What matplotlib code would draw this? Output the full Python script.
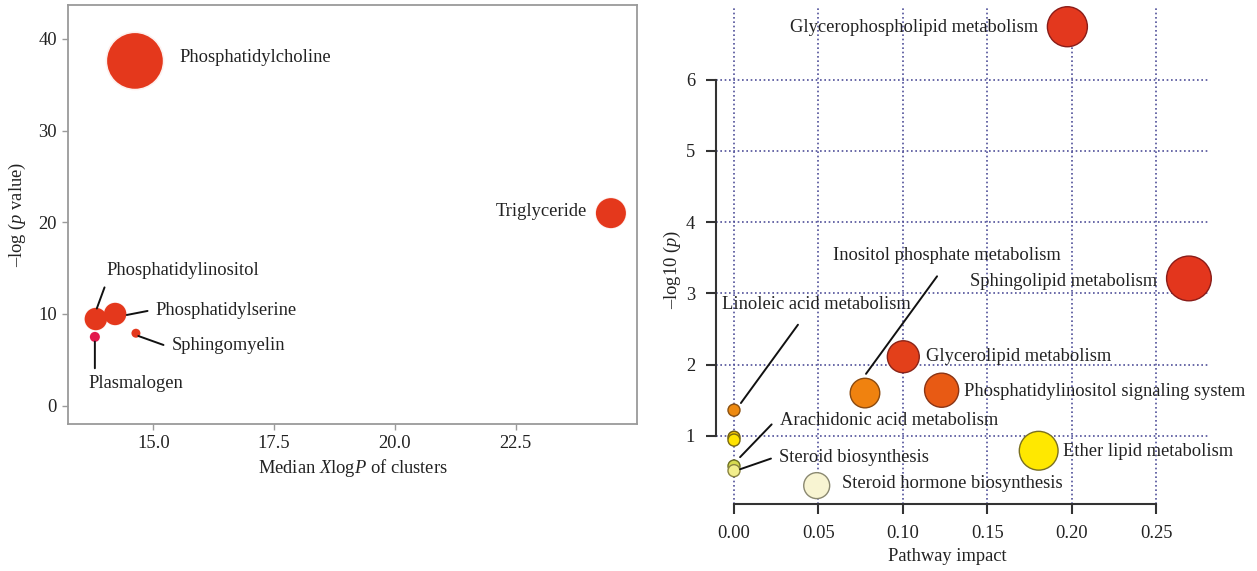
import numpy as np
import matplotlib
matplotlib.use("Agg")
import matplotlib.pyplot as plt

plt.rcParams["font.family"] = ["Liberation Serif", "DejaVu Serif"]
plt.rcParams["mathtext.fontset"] = "custom"
plt.rcParams["mathtext.rm"] = "Liberation Serif"
plt.rcParams["mathtext.it"] = "Liberation Serif:italic"

# ---- left panel: lipid clusters ----
cluster_names = ["Phosphatidylcholine", "Triglyceride", "Phosphatidylinositol",
                 "Phosphatidylserine", "Sphingomyelin", "Plasmalogen"]
cluster_xlogp = [14.62, 24.47, 13.81, 14.21, 14.64, 13.79]
cluster_logp = [37.6, 21.0, 9.45, 10.0, 7.9, 7.5]
cluster_n = [31, 9, 5, 5, 0.8, 1]

# ---- right panel: pathway analysis ----
pathway_names = ["Glycerophospholipid metabolism", "Sphingolipid metabolism",
                 "Glycerolipid metabolism", "Inositol phosphate metabolism",
                 "Phosphatidylinositol signaling system", "Linoleic acid metabolism",
                 "", "", "Arachidonic acid metabolism", "Steroid biosynthesis",
                 "Steroid hormone biosynthesis", "Ether lipid metabolism"]
pathway_impact = [0.1975, 0.2695, 0.1003, 0.0776, 0.123, 0.0, 0.0, 0.0, 0.0, 0.0, 0.049, 0.1805]
pathway_logp = [6.745, 3.21, 2.11, 1.60, 1.64, 1.36, 0.98, 0.94, 0.575, 0.51, 0.30, 0.79]

FIG_W, FIG_H = 1257, 571
fig = plt.figure(figsize=(FIG_W / 100, FIG_H / 100), dpi=100)

def px_axes(l, r, t, b):
    return fig.add_axes([l / FIG_W, 1 - b / FIG_H, (r - l) / FIG_W, (b - t) / FIG_H])

FS = 13.3
TXT = "#222222"

# ================= left =================
ax1 = px_axes(68, 637, 5, 424)
ax1.set_xlim(13.234, 25.01)
ax1.set_ylim(-2.0, 43.7)

c_left = ["#e4381c", "#e4381c", "#e4381c", "#e4381c", "#e4381c", "#e2184c"]
s_left = (0.72 * 10) ** 2 * np.array(cluster_n)
ax1.scatter(cluster_xlogp, cluster_logp, s=s_left * 1.12, c=c_left, alpha=0.07,
            linewidths=0, zorder=2)
ax1.scatter(cluster_xlogp, cluster_logp, s=s_left, c=c_left, linewidths=0, zorder=3)

# label layout: (x, y, ha) and optional leader line
left_labels = [
    (15.53, 38.0, "left", None),
    (23.98, 21.2, "right", None),
    (14.02, 14.7, "left", ((13.99, 12.9), (13.83, 10.6))),
    (15.04, 10.36, "left", ((14.45, 9.89), (14.88, 10.33))),
    (15.38, 6.51, "left", ((14.69, 7.6), (15.21, 6.62))),
    (13.65, 2.44, "left", ((13.79, 6.98), (13.79, 4.08))),
]
for name, (tx, ty, ha, seg) in zip(cluster_names, left_labels):
    ax1.text(tx, ty, name, ha=ha, va="center", fontsize=FS, color=TXT, zorder=5)
    if seg is not None:
        ax1.annotate("", xy=seg[1], xytext=seg[0],
                     arrowprops=dict(arrowstyle="-", color="#111111", lw=1.4,
                                     shrinkA=0, shrinkB=0), zorder=4)

for sp in ax1.spines.values():
    sp.set_color("#9a9a9a")
    sp.set_linewidth(1.3)
ax1.set_xticks([15.0, 17.5, 20.0, 22.5])
ax1.set_xticklabels(["15.0", "17.5", "20.0", "22.5"])
ax1.set_yticks([0, 10, 20, 30, 40])
ax1.tick_params(length=4, width=1, color="#9a9a9a", labelsize=FS, labelcolor=TXT, pad=4)
ax1.set_xlabel("Median $X$log$P$ of clusters", fontsize=FS, color=TXT, va="center")
ax1.xaxis.set_label_coords(0.5, -0.105)
ax1.set_ylabel("\u2013log ($p$ value)", fontsize=FS, color=TXT, va="center")
ax1.yaxis.set_label_coords(-0.088, 0.5)

# ================= right =================
ax2 = px_axes(716, 1208, 8, 504)
ax2.set_xlim(-0.01066, 0.2808)
ax2.set_ylim(0.042, 7.008)

c_right = ["#e3381e", "#e3361d", "#e3401a", "#f0820f", "#e85a14", "#ee8a10",
           "#f2c400", "#ffe300", "#d6da50", "#f2ee8c", "#f8f4d2", "#ffe800"]
e_right = ["#8a1c18", "#8a1c18", "#8a2418", "#8a4a10", "#8a3414", "#8a5010",
           "#6e5a10", "#7a6a10", "#6e7020", "#8a8440", "#8a8870", "#7a7020"]
d_right = 12 + 63 * np.sqrt(np.array(pathway_impact))
ax2.scatter(pathway_impact, pathway_logp, s=(0.72 * d_right) ** 2, c=c_right,
            edgecolors=e_right, linewidths=1.0, zorder=3, clip_on=False)

right_labels = [
    (0.1801, 6.73, "right", None),
    (0.2506, 3.17, "right", None),
    (0.1137, 2.12, "left", None),
    (0.0586, 3.53, "left", ((0.0782, 1.87), (0.1203, 3.24))),
    (0.1363, 1.62, "left", None),
    (-0.0071, 2.84, "left", ((0.0041, 1.46), (0.0379, 2.56))),
    None, None,
    (0.0273, 1.21, "left", ((0.0036, 0.70), (0.0223, 1.16))),
    (0.0268, 0.70, "left", ((0.0036, 0.53), (0.0219, 0.68))),
    (0.0638, 0.33, "left", None),
    (0.1947, 0.78, "left", None),
]
for name, lab in zip(pathway_names, right_labels):
    if lab is None:
        continue
    tx, ty, ha, seg = lab
    ax2.text(tx, ty, name, ha=ha, va="center", fontsize=FS, color=TXT, zorder=5,
             clip_on=False)
    if seg is not None:
        ax2.annotate("", xy=seg[0], xytext=seg[1],
                     arrowprops=dict(arrowstyle="-", color="#111111", lw=1.4,
                                     shrinkA=0, shrinkB=0), zorder=4,
                     annotation_clip=False)

ax2.set_xticks([0.0, 0.05, 0.10, 0.15, 0.20, 0.25])
ax2.set_xticklabels(["0.00", "0.05", "0.10", "0.15", "0.20", "0.25"])
ax2.set_yticks([1, 2, 3, 4, 5, 6])
ax2.grid(True, color="#50509a", linestyle=(0, (1, 1.6)), linewidth=1.2, zorder=1)
ax2.set_axisbelow(True)
for side in ["top", "right"]:
    ax2.spines[side].set_visible(False)
ax2.spines["left"].set_bounds(1, 6)
ax2.spines["bottom"].set_bounds(0, 0.25)
for side in ["left", "bottom"]:
    ax2.spines[side].set_color("#333333")
    ax2.spines[side].set_linewidth(1.5)
ax2.tick_params(length=7, width=1.5, color="#333333", labelsize=FS, labelcolor=TXT, pad=8)
ax2.set_xlabel("Pathway impact", fontsize=FS, color=TXT, va="center")
ax2.xaxis.set_label_coords(0.4695, -0.105)
ax2.set_ylabel("\u2013log10 ($p$)", fontsize=FS, color=TXT, va="center")
ax2.yaxis.set_label_coords(-0.0894, 0.472)

fig.savefig("out.png", dpi=100)
